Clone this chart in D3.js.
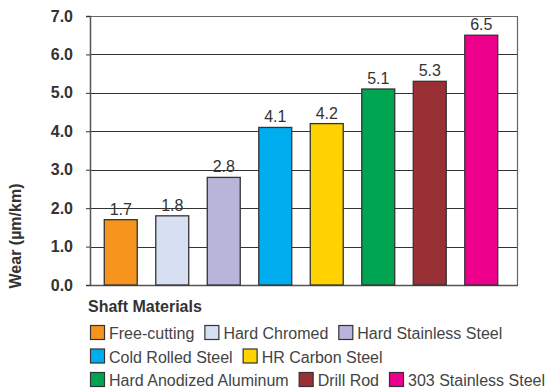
<!DOCTYPE html>
<html>
<head>
<meta charset="utf-8">
<script src="https://cdn.jsdelivr.net/npm/d3@7"></script>
<style>
  body { margin: 0; background: #fff; }
  svg text { font-family: "Liberation Sans", Arial, Helvetica, sans-serif; }
</style>
</head>
<body>
<div id="chart"></div>
<script>
(function(){
    // data
    const materials = ["Free-cutting", "Hard Chromed", "Hard Stainless Steel", "Cold Rolled Steel",
        "HR Carbon Steel", "Hard Anodized Aluminum", "Drill Rod", "303 Stainless Steel"];
    const wear = [1.7, 1.8, 2.8, 4.1, 4.2, 5.1, 5.3, 6.5];
    const colors = ["#F7941D", "#D6E0F2", "#B8B4DA", "#00AEEF", "#FFD200", "#00A551", "#983035", "#EC008C"];
    const yTicks = [0, 1, 2, 3, 4, 5, 6, 7];
    const legendRows = [[0, 1, 2], [3, 4], [5, 6, 7]];

    const width = 546, height = 391;
    const plot = {left: 90, right: 517, top: 16, bottom: 285};

    const svg = d3.select("#chart").append("svg")
        .attr("width", width)
        .attr("height", height);

    const x = d3.scaleBand()
        .domain(materials)
        .range([95, 507])
        .paddingInner(0.36)
        .paddingOuter(0.18);

    const y = d3.scaleLinear()
        .domain([0, 7])
        .range([plot.bottom, plot.top]);

    // grid lines
    svg.append("g")
        .selectAll("line")
        .data(yTicks.slice(1, -1))
        .enter().append("line")
        .attr("x1", plot.left)
        .attr("x2", plot.right)
        .attr("y1", d => Math.round(y(d)) + 0.5)
        .attr("y2", d => Math.round(y(d)) + 0.5)
        .style("stroke", "#333")
        .style("stroke-width", 1);

    // frame top/right
    svg.append("path")
        .attr("d", `M${plot.left},${plot.top + 0.5}H${plot.right + 0.5}V${plot.bottom}`)
        .style("fill", "none")
        .style("stroke", "#666")
        .style("stroke-width", 1.2);

    // y axis
    const yAxis = svg.append("g")
        .attr("transform", `translate(${plot.left},0)`)
        .call(d3.axisLeft(y).tickValues(yTicks).tickFormat(d3.format(".1f")).tickSize(4).tickPadding(13));
    yAxis.select(".domain").style("stroke", "#555").style("stroke-width", 1.5);
    yAxis.selectAll(".tick line").style("stroke", "#333");
    yAxis.selectAll("text")
        .style("font-size", "16px")
        .style("font-weight", "bold")
        .style("fill", "#333");

    // bottom line
    svg.append("line")
        .attr("x1", plot.left)
        .attr("x2", plot.right + 1)
        .attr("y1", plot.bottom + 0.5)
        .attr("y2", plot.bottom + 0.5)
        .style("stroke", "#555")
        .style("stroke-width", 1.5);

    // bars
    svg.append("g")
        .selectAll("rect")
        .data(wear)
        .enter().append("rect")
        .attr("x", (d, i) => x(materials[i]))
        .attr("y", d => y(d))
        .attr("width", x.bandwidth())
        .attr("height", d => plot.bottom - y(d))
        .style("fill", (d, i) => colors[i])
        .style("stroke", "#333")
        .style("stroke-width", 1.3);

    // value labels
    svg.append("g")
        .selectAll("text")
        .data(wear)
        .enter().append("text")
        .attr("x", (d, i) => x(materials[i]) + x.bandwidth() / 2)
        .attr("y", d => y(d) - 5)
        .attr("text-anchor", "middle")
        .style("font-size", "16px")
        .style("fill", "#333")
        .text(d => d.toFixed(1));

    // y title
    svg.append("text")
        .attr("transform", "translate(21,236) rotate(-90)")
        .attr("text-anchor", "middle")
        .style("font-size", "16px")
        .style("font-weight", "bold")
        .style("fill", "#333")
        .text("Wear (\u00B5m/km)");

    // legend
    svg.append("text")
        .attr("x", 88)
        .attr("y", 312)
        .style("font-size", "16px")
        .style("font-weight", "bold")
        .style("fill", "#333")
        .text("Shaft Materials");

    const legend = svg.append("g");
    legendRows.forEach((row, r) => {
        let cx = 90;
        const cy = 325 + r * 23.5;
        row.forEach(i => {
            legend.append("rect")
                .attr("x", cx + 0.5)
                .attr("y", cy + 0.5)
                .attr("width", 14)
                .attr("height", 14)
                .style("fill", colors[i])
                .style("stroke", "#333")
                .style("stroke-width", 1.2);
            const t = legend.append("text")
                .attr("x", cx + 19)
                .attr("y", cy + 14)
                .style("font-size", "16px")
                .style("fill", "#444")
                .text(materials[i]);
            cx += 19 + t.node().getComputedTextLength() + 10;
        });
    });
})();
</script>
</body>
</html>
